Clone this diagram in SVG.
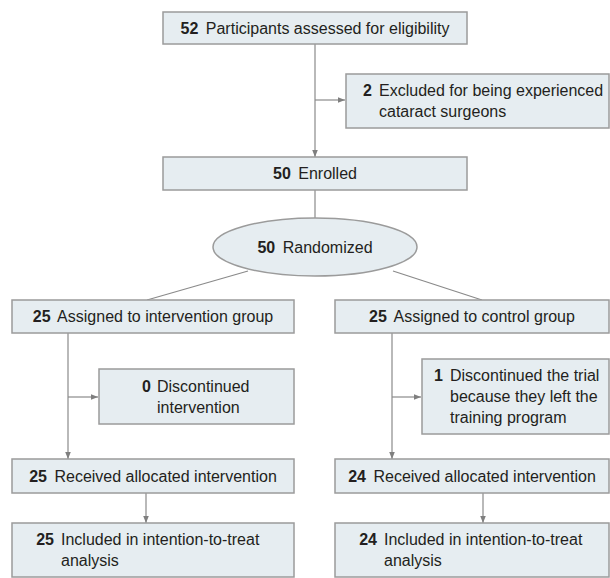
<svg xmlns="http://www.w3.org/2000/svg" width="610" height="578" viewBox="0 0 610 578">
<defs>
<marker id="ah" viewBox="0 0 10 10" refX="10" refY="5" markerWidth="7" markerHeight="7" markerUnits="userSpaceOnUse" orient="auto">
<path d="M0,1 L10,5 L0,9 Z" fill="#7f7f7f"/>
</marker>
<style>
.box{fill:#e6edf1;stroke:#9b9b9b;stroke-width:1.5}
.ln{fill:none;stroke:#8a8a8a;stroke-width:1.2}
.arr{fill:none;stroke:#8a8a8a;stroke-width:1.2;marker-end:url(#ah)}
text{font-family:"Liberation Sans",Arial,sans-serif;font-size:16px;fill:#231f20}
.b{font-weight:bold}
.c{text-anchor:middle}
.e{text-anchor:end}
</style>
</defs>
<rect width="610" height="578" fill="#ffffff"/>
<g id="connectors">
<line class="ln" x1="315" y1="44" x2="315" y2="100"/>
<line class="arr" x1="315" y1="100" x2="345" y2="100"/>
<line class="arr" x1="315" y1="100" x2="315" y2="157"/>
<line class="ln" x1="315" y1="190" x2="315" y2="218"/>
<line class="ln" x1="248" y1="271" x2="147" y2="300"/>
<line class="ln" x1="393" y1="271" x2="482" y2="300"/>
<line class="ln" x1="68" y1="333" x2="68" y2="397"/>
<line class="arr" x1="68" y1="397" x2="98" y2="397"/>
<line class="arr" x1="68" y1="397" x2="68" y2="459"/>
<line class="ln" x1="392" y1="333" x2="392" y2="397"/>
<line class="arr" x1="392" y1="397" x2="421" y2="397"/>
<line class="arr" x1="392" y1="397" x2="392" y2="459"/>
<line class="arr" x1="146" y1="493" x2="146" y2="523"/>
<line class="arr" x1="483" y1="493" x2="483" y2="523"/>
</g>
<g id="assessed">
<rect class="box" x="163" y="12" width="304" height="32"/>
<text class="c" x="315" y="34"><tspan class="b">52</tspan><tspan dx="3"> Participants assessed for eligibility</tspan></text>
</g>
<g id="excluded">
<rect class="box" x="346" y="74" width="263" height="54"/>
<text class="b e" x="372" y="96">2</text>
<text x="379" y="96">Excluded for being experienced</text>
<text x="379" y="117">cataract surgeons</text>
</g>
<g id="enrolled">
<rect class="box" x="163" y="157" width="304" height="33"/>
<text class="c" x="315" y="179"><tspan class="b">50</tspan><tspan dx="3"> Enrolled</tspan></text>
</g>
<g id="randomized">
<ellipse class="box" cx="315" cy="247" rx="102" ry="29"/>
<text class="c" x="315" y="253"><tspan class="b">50</tspan><tspan dx="3"> Randomized</tspan></text>
</g>
<g id="assigned-intervention">
<rect class="box" x="12" y="300" width="282" height="33"/>
<text class="c" x="153" y="322"><tspan class="b">25</tspan><tspan dx="3"> Assigned to intervention group</tspan></text>
</g>
<g id="assigned-control">
<rect class="box" x="335" y="300" width="274" height="33"/>
<text class="c" x="472" y="322"><tspan class="b">25</tspan><tspan dx="3"> Assigned to control group</tspan></text>
</g>
<g id="discontinued-intervention">
<rect class="box" x="99" y="369" width="195" height="55"/>
<text class="b e" x="151" y="392">0</text>
<text x="157" y="392">Discontinued</text>
<text x="157" y="413">intervention</text>
</g>
<g id="discontinued-control">
<rect class="box" x="422" y="359" width="187" height="75"/>
<text class="b e" x="443" y="381">1</text>
<text x="450" y="381">Discontinued the trial</text>
<text x="450" y="402">because they left the</text>
<text x="450" y="423">training program</text>
</g>
<g id="received-intervention">
<rect class="box" x="12" y="459" width="282" height="34"/>
<text class="c" x="153" y="482"><tspan class="b">25</tspan><tspan dx="3"> Received allocated intervention</tspan></text>
</g>
<g id="received-control">
<rect class="box" x="335" y="459" width="274" height="34"/>
<text class="c" x="472" y="482"><tspan class="b">24</tspan><tspan dx="3"> Received allocated intervention</tspan></text>
</g>
<g id="itt-intervention">
<rect class="box" x="12" y="523" width="282" height="54"/>
<text class="b e" x="54" y="545">25</text>
<text x="61" y="545">Included in intention-to-treat</text>
<text x="61" y="566">analysis</text>
</g>
<g id="itt-control">
<rect class="box" x="335" y="523" width="274" height="54"/>
<text class="b e" x="377" y="545">24</text>
<text x="384" y="545">Included in intention-to-treat</text>
<text x="384" y="566">analysis</text>
</g>
</svg>
